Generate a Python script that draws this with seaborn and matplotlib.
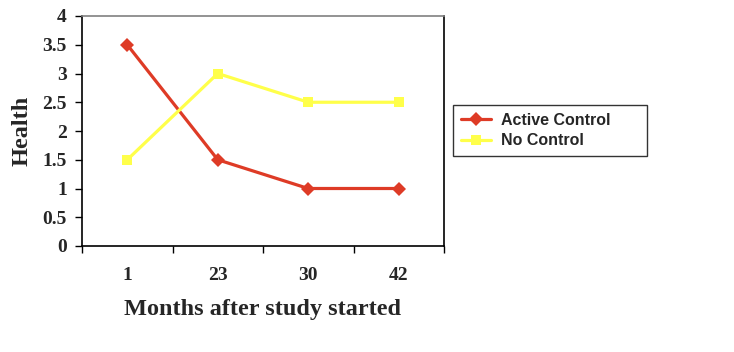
import numpy as np
import pandas as pd
import seaborn as sns
import matplotlib.pyplot as plt
from matplotlib.ticker import FixedLocator, NullFormatter

months = ["1", "23", "30", "42"]
active_control = [3.5, 1.5, 1.0, 1.0]
no_control = [1.5, 3.0, 2.5, 2.5]
y_ticks = [0, 0.5, 1, 1.5, 2, 2.5, 3, 3.5, 4]
y_tick_labels = ["0", "0.5", "1", "1.5", "2", "2.5", "3", "3.5", "4"]

sns.set_style("white")
plt.rcParams['font.family'] = ['Liberation Serif', 'DejaVu Serif']

df = pd.concat([
    pd.DataFrame({'Month': months, 'Health': active_control, 'Group': 'Active Control'}),
    pd.DataFrame({'Month': months, 'Health': no_control, 'Group': 'No Control'}),
], ignore_index=True)

palette = {'Active Control': '#DE3B26', 'No Control': '#FFFF4A'}
markers = {'Active Control': 'D', 'No Control': 's'}

fig = plt.figure(figsize=(7.34, 3.52), dpi=100)
ax = fig.add_axes([82 / 734, 1 - 246 / 352, (444 - 82) / 734, (246 - 16) / 352])

sns.lineplot(data=df, x='Month', y='Health', hue='Group', style='Group',
             markers=markers, dashes=False, palette=palette, ax=ax,
             linewidth=2.3, markersize=7.5, markeredgewidth=0, sort=False)

ax.set_xlim(-0.5, 3.5)
ax.set_ylim(0, 4)
ax.set_yticks(y_ticks)
ax.set_yticklabels(y_tick_labels, fontsize=14, fontweight='bold')

# category boundaries get tick marks, labels sit at the centres
ax.xaxis.set_major_locator(FixedLocator([-0.5, 0.5, 1.5, 2.5, 3.5]))
ax.xaxis.set_major_formatter(NullFormatter())
ax.set_xticks([0, 1, 2, 3], minor=True)
ax.set_xticklabels(months, minor=True, fontsize=14, fontweight='bold')
ax.tick_params(axis='x', which='major', direction='out', length=5, width=1, color='black', bottom=True)
ax.tick_params(axis='x', which='minor', length=0, pad=15)
ax.tick_params(axis='y', direction='out', length=5, width=1, color='black', left=True, pad=6)

for side in ['left', 'bottom', 'right']:
    ax.spines[side].set_color('black')
    ax.spines[side].set_linewidth(1.2)
ax.spines['top'].set_color('#808080')
ax.spines['top'].set_linewidth(1.2)

ax.set_xlabel("Months after study started", fontsize=17.5, fontweight='bold', labelpad=11)
ax.set_ylabel("Health", fontsize=17.5, fontweight='bold', labelpad=7)

leg = ax.legend(loc='center left', mode='expand',
                bbox_to_anchor=(453 / 734, 1 - 156 / 352, 194 / 734, 51 / 352),
                bbox_transform=fig.transFigure, frameon=True, fancybox=False,
                handlelength=1.9, handletextpad=0.6, borderpad=0.5, labelspacing=0.35,
                borderaxespad=0,
                prop={'family': 'Liberation Sans', 'size': 11.5, 'weight': 'bold'})
leg.get_frame().set_edgecolor('black')
leg.get_frame().set_linewidth(1.0)
leg.set_title(None)

fig.savefig('out.png', dpi=100)
